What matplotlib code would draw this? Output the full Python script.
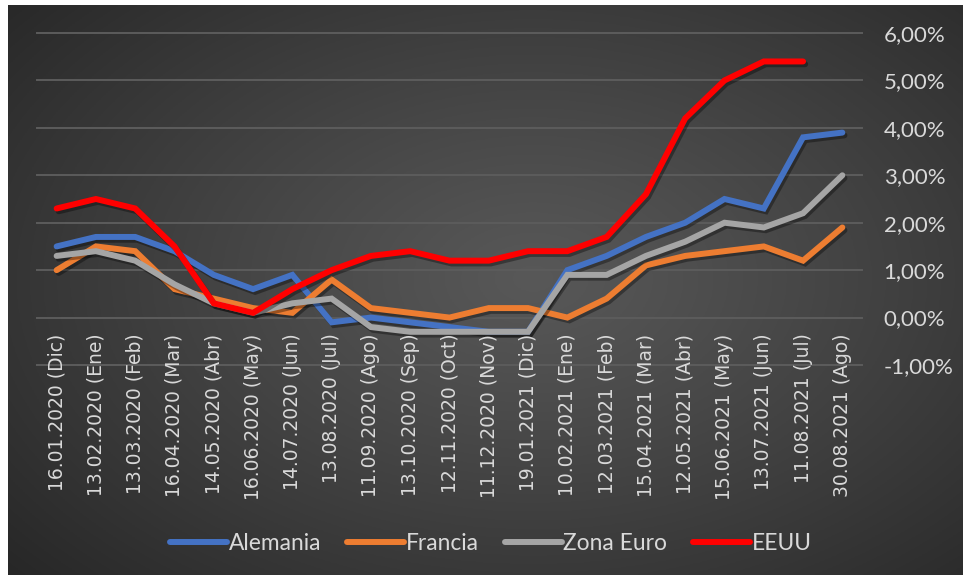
import numpy as np
import matplotlib.pyplot as plt
import matplotlib.patheffects as pe
from matplotlib.transforms import offset_copy
from matplotlib.lines import Line2D

fechas = ['16.01.2020 (Dic)', '13.02.2020 (Ene)', '13.03.2020 (Feb)', '16.04.2020 (Mar)',
          '14.05.2020 (Abr)', '16.06.2020 (May)', '14.07.2020 (Jun)', '13.08.2020 (Jul)',
          '11.09.2020 (Ago)', '13.10.2020 (Sep)', '12.11.2020 (Oct)', '11.12.2020 (Nov)',
          '19.01.2021 (Dic)', '10.02.2021 (Ene)', '12.03.2021 (Feb)', '15.04.2021 (Mar)',
          '12.05.2021 (Abr)', '15.06.2021 (May)', '13.07.2021 (Jun)', '11.08.2021 (Jul)',
          '30.08.2021 (Ago)']

alemania = [1.5, 1.7, 1.7, 1.4, 0.9, 0.6, 0.9, -0.1, 0.0, -0.1, -0.2, -0.3, -0.3,
            1.0, 1.3, 1.7, 2.0, 2.5, 2.3, 3.8, 3.9]
francia = [1.0, 1.5, 1.4, 0.6, 0.4, 0.2, 0.1, 0.8, 0.2, 0.1, 0.0, 0.2, 0.2,
           0.0, 0.4, 1.1, 1.3, 1.4, 1.5, 1.2, 1.9]
zona_euro = [1.3, 1.4, 1.2, 0.7, 0.3, 0.1, 0.3, 0.4, -0.2, -0.3, -0.3, -0.3, -0.3,
             0.9, 0.9, 1.3, 1.6, 2.0, 1.9, 2.2, 3.0]
eeuu = [2.3, 2.5, 2.3, 1.5, 0.3, 0.1, 0.6, 1.0, 1.3, 1.4, 1.2, 1.2, 1.4,
        1.4, 1.7, 2.6, 4.2, 5.0, 5.4, 5.4, np.nan]

series = [('Alemania', alemania, '#4472C4'),
          ('Francia', francia, '#ED7D31'),
          ('Zona Euro', zona_euro, '#A5A5A5'),
          ('EEUU', eeuu, '#FF0000')]

y_ticks = [-1, 0, 1, 2, 3, 4, 5, 6]
txt_color = '#D9D9D9'

W, H = 963, 578
fig = plt.figure(figsize=(W / 100, H / 100), dpi=100, facecolor='white')

# dark radial gradient behind everything
bg = fig.add_axes([8 / W, 3 / H, 954 / W, 570 / H], zorder=0)
gx, gy = np.meshgrid(np.linspace(0, 1, 400), np.linspace(0, 1, 240))
r = np.sqrt(((gx - 0.55) / 0.75) ** 2 + ((gy - 0.52) / 0.8) ** 2)
r = np.clip(r, 0, 1)
c0, c1 = np.array([0x58, 0x58, 0x58]) / 255, np.array([0x26, 0x26, 0x26]) / 255
img = c0 + (c1 - c0) * r[..., None] ** 1.1
bg.imshow(img, extent=[0, 1, 0, 1], aspect='auto', origin='lower')
bg.set_axis_off()

ax = fig.add_axes([37 / W, (H - 365) / H, 825 / W, 332 / H], zorder=1)
ax.patch.set_alpha(0)
for s in ax.spines.values():
    s.set_visible(False)
x = np.arange(len(fechas))
ax.set_xlim(-0.5, len(fechas) - 0.5)
ax.set_ylim(-1, 6)

for v in y_ticks:
    ax.axhline(v, color='#5c5c5c', lw=1.4, zorder=1, clip_on=False)

shadow = [pe.SimpleLineShadow(offset=(1.5, -2), alpha=0.35, shadow_color='black'), pe.Normal()]
for name, vals, col in series:
    ax.plot(x, vals, color=col, lw=4.3, solid_capstyle='round', solid_joinstyle='miter',
            zorder=3, path_effects=shadow)

ax.set_xticks([])
ax.yaxis.tick_right()
ax.set_yticks(y_ticks)
ax.set_yticklabels([f'{v:.2f}%'.replace('.', ',') for v in y_ticks])
ax.tick_params(axis='y', length=0, pad=15.5, labelcolor=txt_color, labelsize=16)
for t in ax.get_yticklabels():
    t.set_fontfamily('Lato')

# category labels hang below the zero line
lab_tr = offset_copy(ax.transData, fig=fig, y=-16, units='dots')
for i, lab in enumerate(fechas):
    ax.text(i, 0, lab, transform=lab_tr, rotation=90, ha='center', va='top',
            color=txt_color, fontsize=13.5, family='DejaVu Sans')

handles = [Line2D([], [], color=col, lw=4.3, solid_capstyle='round') for _, _, col in series]
leg = fig.legend(handles, [s[0] for s in series], loc='center', ncol=4,
                 bbox_to_anchor=(491 / W, 1 - 543 / H), frameon=False, handlelength=2.5,
                 handletextpad=0.06, columnspacing=1.15,
                 prop={'family': 'Lato', 'size': 16.4})
for t in leg.get_texts():
    t.set_color(txt_color)

fig.savefig('out.png', dpi=100, facecolor='white')
